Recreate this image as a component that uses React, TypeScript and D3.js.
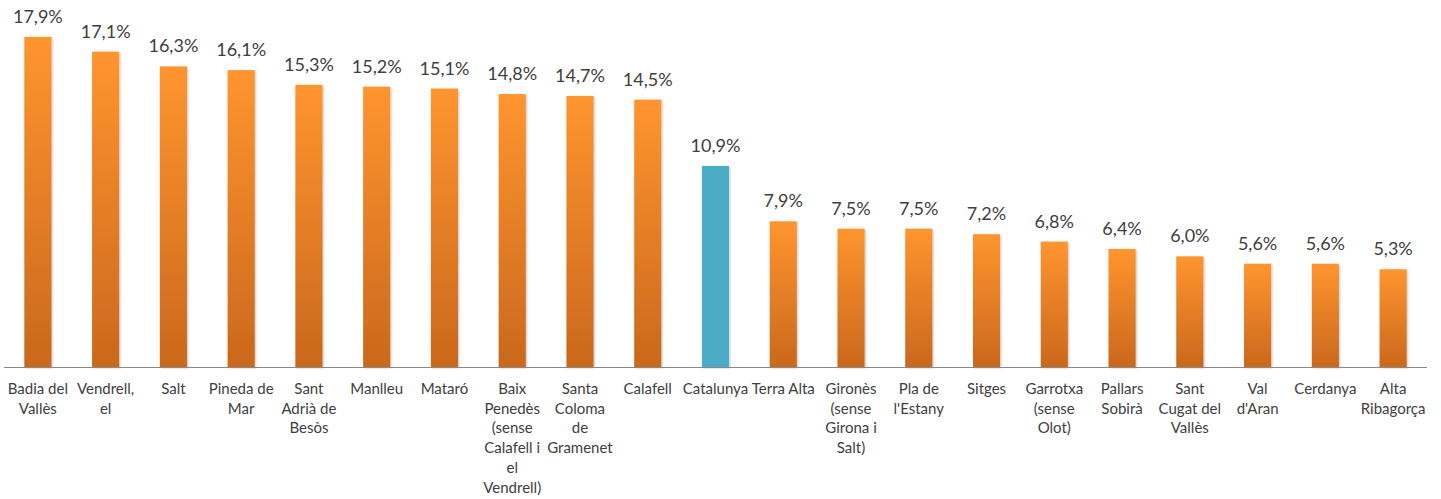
import React from "react";
import * as d3 from "d3";

const categories: string[][] = [
  ["Badia del", "Vallès"],
  ["Vendrell,", "el"],
  ["Salt"],
  ["Pineda de", "Mar"],
  ["Sant", "Adrià de", "Besòs"],
  ["Manlleu"],
  ["Mataró"],
  ["Baix", "Penedès", "(sense", "Calafell i", "el", "Vendrell)"],
  ["Santa", "Coloma", "de", "Gramenet"],
  ["Calafell"],
  ["Catalunya"],
  ["Terra Alta"],
  ["Gironès", "(sense", "Girona i", "Salt)"],
  ["Pla de", "l'Estany"],
  ["Sitges"],
  ["Garrotxa", "(sense", "Olot)"],
  ["Pallars", "Sobirà"],
  ["Sant", "Cugat del", "Vallès"],
  ["Val", "d'Aran"],
  ["Cerdanya"],
  ["Alta", "Ribagorça"],
];
const values: number[] = [17.9, 17.1, 16.3, 16.1, 15.3, 15.2, 15.1, 14.8, 14.7, 14.5, 10.9, 7.9, 7.5, 7.5, 7.2, 6.8, 6.4, 6.0, 5.6, 5.6, 5.3];
const highlight = "Catalunya";

export default function App() {
  const W = 1441, H = 499;
  const left = 4, right = 1427, base = 367;
  const x = d3.scaleBand<number>().domain(d3.range(values.length)).range([left, right]).paddingInner(0.6).paddingOuter(0.3);
  const y = d3.scaleLinear().domain([0, 20]).range([base, base - 20 * 18.44]);
  const font = "Lato, 'Open Sans', sans-serif";
  const fmt = (v: number) => v.toFixed(1).replace(".", ",") + "%";
  return (
    <svg width={W} height={H} style={{ position: "absolute", left: 0, top: 0 }}>
      <defs>
        <linearGradient id="og" x1="0" y1="0" x2="0" y2="1">
          <stop offset="0%" stopColor="#FF952F" />
          <stop offset="100%" stopColor="#CA681D" />
        </linearGradient>
        <filter id="sh" x="-20%" y="-5%" width="140%" height="110%">
          <feDropShadow dx="1" dy="1" stdDeviation="1" floodColor="#000" floodOpacity="0.25" />
        </filter>
      </defs>
      {values.map((v, i) => {
        const cat = categories[i];
        const isH = cat.join(" ") === highlight;
        const bx = x(i)!;
        const bw = x.bandwidth();
        const cx = bx + bw / 2;
        return (
          <g key={i}>
            <rect x={bx} y={y(v)} width={bw} height={base - y(v)} fill={isH ? "#4BACC6" : "url(#og)"} filter="url(#sh)" />
            <text x={cx} y={y(v) - 14} textAnchor="middle" fontFamily={font} fontSize={18} fill="#404040">{fmt(v)}</text>
            <text textAnchor="middle" fontFamily={font} fontSize={15} fill="#404040">
              {cat.map((l, j) => (
                <tspan key={j} x={cx} y={394 + j * 19.7}>{l}</tspan>
              ))}
            </text>
          </g>
        );
      })}
      <line x1={left} x2={right} y1={base + 0.5} y2={base + 0.5} stroke="#898989" strokeWidth={1} />
    </svg>
  );
}
